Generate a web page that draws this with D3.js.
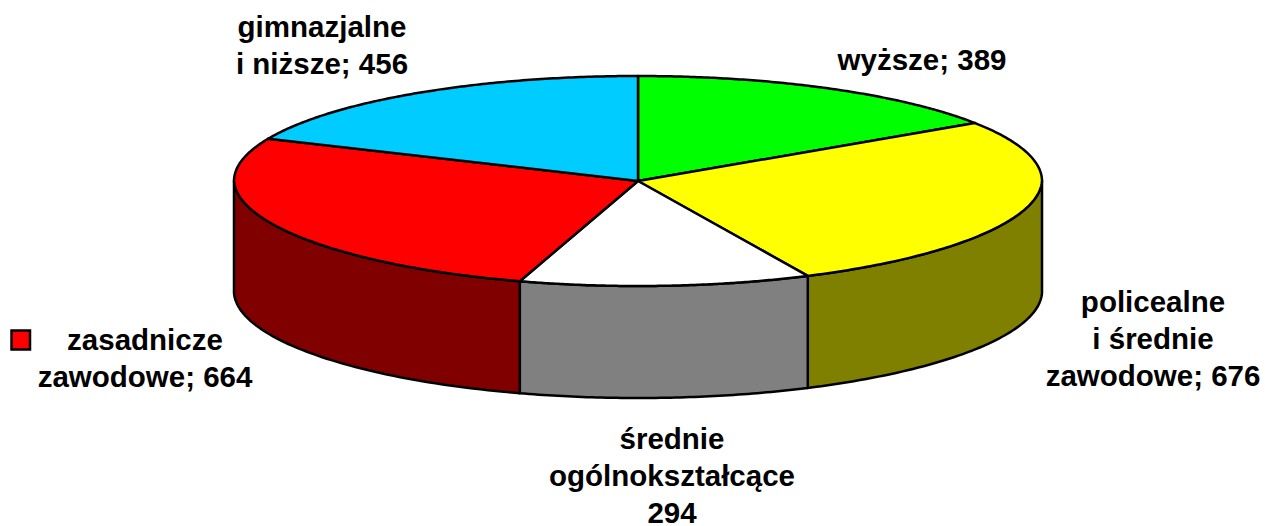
<!DOCTYPE html>
<html>
<head>
<meta charset="utf-8">
<script src="https://cdn.jsdelivr.net/npm/d3@7"></script>
<style>
  html, body { margin: 0; background: #fff; }
  text { font-family: "Liberation Sans", Arial, sans-serif; font-weight: bold; font-size: 29.5px; fill: #000; text-anchor: middle; }
</style>
</head>
<body>
<svg id="chart" width="1265" height="526"></svg>
<script>
// data, clockwise from twelve o'clock
const categories = ['wyższe', 'policealne i średnie zawodowe', 'średnie ogólnokształcące', 'zasadnicze zawodowe', 'gimnazjalne i niższe'];
const values = [389, 676, 294, 664, 456];
const topColors = ['#00ff00', '#ffff00', '#ffffff', '#ff0000', '#00ccff'];
const sideColors = ['#008000', '#808000', '#808080', '#800000', '#006680'];
const labelLines = [
  ['wyższe; 389'],
  ['policealne', 'i średnie', 'zawodowe; 676'],
  ['średnie', 'ogólnokształcące', '294'],
  ['zasadnicze', 'zawodowe; 664'],
  ['gimnazjalne', 'i niższe; 456']
];

// initialise layout variables
const cx = 638, cy = 181;
const rx = 404, ry = 105;
const depth = 112;
const frontSqueeze = 0.02; // the front rim is a little narrower, like the 3d view in the original
const labelPos = [[922, 70], [1153, 312], [672, 449], [145, 350], [322, 37]];
const lineHeight = 37;

const svg = d3.select('#chart');

const pie = d3.pie().value(d => d).sort(null);
const slices = pie(values);

// unit circle squashed onto the ellipse
const px = d3.scaleLinear().domain([-1, 1]).range([cx - rx, cx + rx]);
const py = d3.scaleLinear().domain([-1, 1]).range([cy - ry, cy + ry]);
const rim = a => {
  const c = Math.cos(a);
  return [px(Math.sin(a) * (1 + frontSqueeze * Math.min(c, 0))), py(-c)];
};

function sidePath(a0, a1) {
  const pts = d3.range(0, 61).map(i => rim(a0 + (a1 - a0) * i / 60));
  const down = pts.slice().reverse().map(p => [p[0], p[1] + depth]);
  return d3.line()(pts.concat(down)) + 'Z';
}

function topPath(d) {
  const pts = d3.range(0, 121).map(i => rim(d.startAngle + (d.endAngle - d.startAngle) * i / 120));
  return d3.line()([[cx, cy]].concat(pts)) + 'Z';
}

// walls, only the part facing the viewer
svg.append('g').selectAll('path')
    .data(slices)
    .enter()
    .filter(d => d.endAngle > Math.PI / 2 && d.startAngle < 3 * Math.PI / 2)
    .append('path')
    .attr('d', d => sidePath(Math.max(d.startAngle, Math.PI / 2), Math.min(d.endAngle, 3 * Math.PI / 2)))
    .attr('fill', d => sideColors[d.index])
    .attr('stroke', '#000')
    .attr('stroke-width', 2.5)
    .attr('stroke-linejoin', 'round');

// top face
svg.append('g').selectAll('path')
    .data(slices)
    .enter()
    .append('path')
    .attr('d', topPath)
    .attr('fill', d => topColors[d.index])
    .attr('stroke', '#000')
    .attr('stroke-width', 2.5)
    .attr('stroke-linejoin', 'round');

// labels
const labels = svg.append('g').selectAll('text')
    .data(labelLines)
    .enter()
    .append('text')
    .attr('transform', (d, i) => 'translate(' + labelPos[i][0] + ',' + labelPos[i][1] + ')');
labels.selectAll('tspan')
    .data(d => d)
    .enter()
    .append('tspan')
    .attr('x', 0)
    .attr('y', (d, i) => i * lineHeight)
    .text(d => d);

// legend key next to the zasadnicze label
svg.append('rect')
    .attr('x', 11.5)
    .attr('y', 330.5)
    .attr('width', 18.5)
    .attr('height', 19)
    .attr('fill', topColors[3])
    .attr('stroke', '#000')
    .attr('stroke-width', 2.5);
</script>
</body>
</html>
